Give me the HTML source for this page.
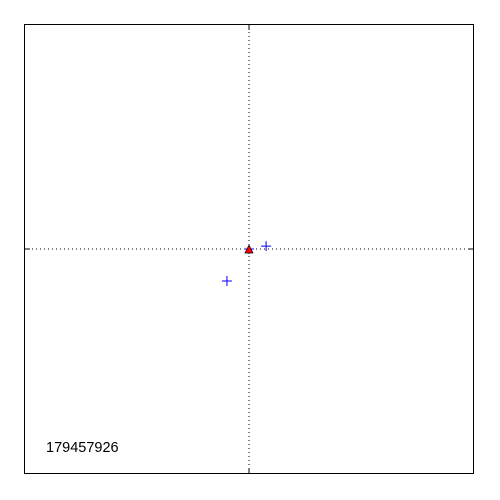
<!DOCTYPE html>
<html><head><style>body{margin:0;background:#fff}svg{display:block}</style></head>
<body>
<svg width="500" height="500" xmlns="http://www.w3.org/2000/svg">
<rect x="0" y="0" width="500" height="500" fill="#fff"/>
<line x1="249" y1="24" x2="249" y2="474" stroke="#000" stroke-dasharray="1,3"/>
<line x1="24" y1="249" x2="474" y2="249" stroke="#000" stroke-dasharray="1,3"/>
<line x1="249" y1="474" x2="249" y2="468" stroke="#000"/>
<line x1="249" y1="24" x2="249" y2="30" stroke="#000"/>
<line x1="24" y1="249" x2="30" y2="249" stroke="#000"/>
<line x1="474" y1="249" x2="468" y2="249" stroke="#000"/>
<g id="marks"></g>
<rect x="24.5" y="24.5" width="449" height="449" fill="none" stroke="#000"/>
<text x="46" y="452" font-family="Liberation Sans, sans-serif" font-size="14.5" fill="#000">179457926</text>
</svg>
<script>
const crossX = [0.076, -0.098, 0];
const crossY = [0.013, -0.142, 0];
const triX = [0];
const triY = [0];
const sx = v => 249 + v * 225;
const sy = v => 249 - v * 225;
const g = document.getElementById('marks');
const NS = 'http://www.w3.org/2000/svg';
crossX.forEach((x, i) => {
  const p = document.createElementNS(NS, 'path');
  const cx = sx(x), cy = sy(crossY[i]);
  p.setAttribute('d', `M${cx-5},${cy}H${cx+5}M${cx},${cy-5}V${cy+5}`);
  p.setAttribute('stroke', '#0000ff');
  
  
  g.appendChild(p);
});
triX.forEach((x, i) => {
  const p = document.createElementNS(NS, 'path');
  const cx = sx(x), cy = sy(triY[i]);
  p.setAttribute('d', `M${cx},${cy-4}L${cx+4},${cy+4}L${cx-4},${cy+4}Z`);
  p.setAttribute('fill', '#ff0000');
  p.setAttribute('stroke', '#000');
  p.setAttribute('stroke-width', '0.7');
  
  
  g.appendChild(p);
});
</script>
</body></html>
